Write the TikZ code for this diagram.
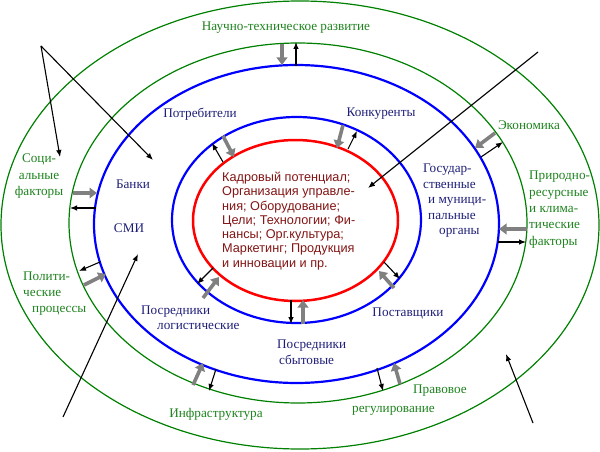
\documentclass[tikz,border=0pt]{standalone}
\usepackage{fontspec}
\setmainfont{Liberation Serif}
\newfontfamily\arialf{Liberation Sans}
\usetikzlibrary{arrows.meta}
\definecolor{grn}{RGB}{0,128,0}
\definecolor{grntext}{RGB}{30,130,30}
\definecolor{navy}{RGB}{30,30,120}
\definecolor{dred}{RGB}{130,20,20}
\definecolor{gry}{RGB}{128,128,128}
\begin{document}
\begin{tikzpicture}[x=1pt,y=-1pt,
  ringg/.style={draw=grn,line width=1.2pt},
  ringb/.style={draw=blue,line width=2.2pt},
  ringr/.style={draw=red,line width=2.5pt},
  garrow/.style={draw=gry,line width=3.6pt,-{Triangle[length=7.5pt,width=10.5pt]}},
  barrow/.style={draw=black,line width=1.1pt,-{Latex[length=7pt,width=5.5pt]}},
  lbl/.style={inner sep=0pt,font=\fontsize{13.2}{16.3}\selectfont,text height=0.7em,text depth=0.2em},
  glbl/.style={lbl,text=grntext},
  blbl/.style={lbl,text=navy},
  ctext/.style={inner sep=0pt,text=dred,font=\arialf\fontsize{12.7}{14.3}\selectfont,align=left}]
\useasboundingbox (0,0) rectangle (600,452);
% rings
\draw[ringg] (300,225) ellipse [x radius=299, y radius=224];
\draw[ringg] (298,223) ellipse [x radius=229, y radius=180];
\draw[ringb] (296.5,224) ellipse [x radius=202.5, y radius=159];
\draw[ringb] (296.5,220) ellipse [x radius=124.5, y radius=103];
\draw[ringr] (295.5,220.5) ellipse [x radius=102.5, y radius=80.5];
% grey (inward) arrows
\draw[garrow] (282,44) -- (282,65);
\draw[garrow] (495,133) -- (475,148);
\draw[garrow] (527,229) -- (499,229);
\draw[garrow] (73,193) -- (97,193);
\draw[garrow] (84,285) -- (106,274);
\draw[garrow] (193,385) -- (203,363);
\draw[garrow] (400,384) -- (394,363);
\draw[garrow] (223,136) -- (234,157);
\draw[garrow] (343,125) -- (337,148);
\draw[garrow] (203,298) -- (219,277);
\draw[garrow] (303,324) -- (303,300);
\draw[garrow] (394,288) -- (379,271);
% black (outward) arrows
\draw[barrow] (296,66) -- (296,42);
\draw[barrow] (481,157) -- (503,142);
\draw[barrow] (498,242) -- (526,242);
\draw[barrow] (96,208) -- (70,208);
\draw[barrow] (100,262) -- (79,271);
\draw[barrow] (216,369) -- (209,391);
\draw[barrow] (377,368) -- (383,391);
\draw[barrow] (223,162) -- (212,143);
\draw[barrow] (348,149) -- (357,131);
\draw[barrow] (213,268) -- (197,284);
\draw[barrow] (291,300) -- (291,324);
\draw[barrow] (384,262) -- (400,279);
% long arrows
\coordinate (fork) at (41,46);
\coordinate (ls) at (60,157);
\coordinate (lb) at (153,160);
\coordinate (rs) at (538,52);
\coordinate (re) at (368,188);
\coordinate (bls) at (63,417);
\coordinate (ble) at (138,254);
\coordinate (brs) at (533,423);
\coordinate (bre) at (506,354);
\draw[barrow] (fork) -- (ls);
\draw[barrow] (fork) -- (lb);
\draw[barrow] (rs) -- (re);
\draw[barrow] (bls) -- (ble);
\draw[barrow] (brs) -- (bre);
% green labels
\node[glbl] (ntr) at (286,28) {Научно-техническое развитие};
\node[glbl] (econ) at (529,127) {Экономика};
\node[glbl,align=center] (soc) at (39,193) {Соци-\\альные\\факторы};
\node[glbl,anchor=west] (pol1) at (23,278) {Полити-};
\node[glbl,anchor=west] (pol2) at (23,294) {ческие};
\node[glbl,anchor=west] (pol3) at (32,310) {процессы};
\node[glbl,anchor=west,align=left] (prir) at (529,242.5) {Природно-\\ресурсные\\и клима-\\тические\\факторы};
\node[glbl] (infr) at (216,415) {Инфраструктура};
\node[glbl,anchor=west] (prav1) at (413,391) {Правовое};
\node[glbl,anchor=west] (prav2) at (352,410) {регулирование};
% blue labels
\node[blbl] (potr) at (200,115) {Потребители};
\node[blbl] (konk) at (381,114) {Конкуренты};
\node[blbl] (bank) at (133,186) {Банки};
\node[blbl] (smi) at (129,230) {СМИ};
\node[blbl,anchor=west] (gos1) at (423,170) {Государ-};
\node[blbl,anchor=west] (gos2) at (423,185.5) {ственные};
\node[blbl,anchor=west] (gos3) at (428,201) {и муници-};
\node[blbl,anchor=west] (gos4) at (428,216.5) {пальные};
\node[blbl,anchor=west] (gos5) at (439,232) {органы};
\node[blbl] (post) at (408,314) {Поставщики};
\node[blbl,anchor=west] (pl1) at (141,312) {Посредники};
\node[blbl,anchor=west] (pl2) at (157,327) {логистические};
\node[blbl,anchor=west] (ps1) at (277,346) {Посредники};
\node[blbl,anchor=west] (ps2) at (279,362) {сбытовые};
% centre text
\node[ctext,anchor=west] (core) at (222,221) {Кадровый потенциал;\\Организация управле-\\ния; Оборудование;\\Цели; Технологии; Фи-\\нансы; Орг.культура;\\Маркетинг; Продукция\\и инновации и пр.};
\end{tikzpicture}
\end{document}
